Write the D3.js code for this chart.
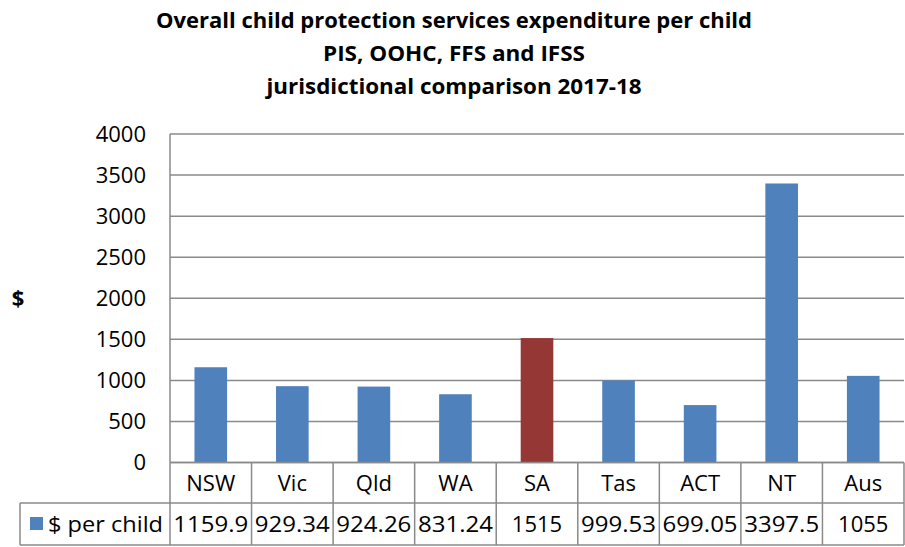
<!DOCTYPE html>
<html>
<head>
<meta charset="utf-8">
<script src="https://cdn.jsdelivr.net/npm/d3@7"></script>
<style>
  body { margin: 0; background: #fff; }
  svg { display: block; font-family: "Open Sans", sans-serif; }
</style>
</head>
<body>
<div id="chart"></div>
<script>
// data
const titleLines = [
  'Overall child protection services expenditure per child',
  'PIS, OOHC, FFS and IFSS',
  'jurisdictional comparison 2017-18'
];
const categories = ['NSW', 'Vic', 'Qld', 'WA', 'SA', 'Tas', 'ACT', 'NT', 'Aus'];
const values = [1159.9, 929.34, 924.26, 831.24, 1515, 999.53, 699.05, 3397.5, 1055];
const valueLabels = ['1159.9', '929.34', '924.26', '831.24', '1515', '999.53', '699.05', '3397.5', '1055'];
const highlight = 'SA';
const yTicks = [0, 500, 1000, 1500, 2000, 2500, 3000, 3500, 4000];
const seriesName = '$ per child';

const W = 905, H = 547;
const plotL = 170, plotR = 904, plotT = 134, plotB = 462.5;
const row1 = 503, row2 = 545, tableLeft = 20;
const gridColor = '#8a8a8a';
const blue = '#4f81bd', red = '#953735';

const svg = d3.select('#chart').append('svg')
  .attr('width', W)
  .attr('height', H);

const x = d3.scaleBand().domain(categories).range([plotL, plotR]);
const y = d3.scaleLinear().domain([0, 4000]).range([plotB, plotT]);

// title
const titleWidths = [596, 262, 375];
svg.append('g')
  .selectAll('text')
  .data(titleLines)
  .join('text')
  .attr('x', 454)
  .attr('y', (d, i) => 27.5 + i * 33)
  .attr('text-anchor', 'middle')
  .attr('font-size', 22)
  .attr('font-weight', 700)
  .attr('fill', '#000')
  .attr('textLength', (d, i) => titleWidths[i])
  .attr('lengthAdjust', 'spacingAndGlyphs')
  .text(d => d);

// gridlines
svg.append('g')
  .selectAll('line')
  .data(yTicks)
  .join('line')
  .attr('x1', plotL)
  .attr('x2', plotR)
  .attr('y1', d => y(d))
  .attr('y2', d => y(d))
  .attr('stroke', gridColor)
  .attr('stroke-width', 1.5);

// y tick labels
svg.append('g')
  .selectAll('text')
  .data(yTicks)
  .join('text')
  .attr('x', 146)
  .attr('y', d => y(d))
  .attr('dy', '0.36em')
  .attr('text-anchor', 'end')
  .attr('font-size', 22)
  .attr('fill', '#000')
  .text(d => d);

// y axis title
svg.append('text')
  .attr('x', 18)
  .attr('y', y(2000))
  .attr('dy', '0.36em')
  .attr('text-anchor', 'middle')
  .attr('font-size', 22)
  .attr('font-weight', 700)
  .text('$');

// bars
const barW = x.bandwidth() * 0.4;
svg.append('g')
  .selectAll('rect')
  .data(categories)
  .join('rect')
  .attr('x', d => x(d) + (x.bandwidth() - barW) / 2)
  .attr('y', (d, i) => y(values[i]))
  .attr('width', barW)
  .attr('height', (d, i) => y(0) - y(values[i]))
  .attr('fill', d => d === highlight ? red : blue);

// data table
const tbl = svg.append('g')
  .attr('stroke', gridColor)
  .attr('stroke-width', 1.5)
  .attr('fill', 'none');

tbl.append('line').attr('x1', plotL).attr('x2', plotL).attr('y1', plotT).attr('y2', row2);
tbl.append('line').attr('x1', plotR).attr('x2', plotR).attr('y1', plotB).attr('y2', row2);
tbl.append('line').attr('x1', tableLeft).attr('x2', tableLeft).attr('y1', row1).attr('y2', row2);
tbl.append('line').attr('x1', tableLeft).attr('x2', plotR).attr('y1', row1).attr('y2', row1);
tbl.append('line').attr('x1', tableLeft).attr('x2', plotR).attr('y1', row2).attr('y2', row2);
tbl.append('line').attr('x1', plotL).attr('x2', plotR).attr('y1', plotB).attr('y2', plotB);
tbl.selectAll('line.sep')
  .data(categories.slice(1))
  .join('line')
  .attr('class', 'sep')
  .attr('x1', d => x(d))
  .attr('x2', d => x(d))
  .attr('y1', plotB)
  .attr('y2', row2);

svg.append('g')
  .selectAll('text')
  .data(categories)
  .join('text')
  .attr('x', d => x(d) + x.bandwidth() / 2)
  .attr('y', (plotB + row1) / 2)
  .attr('dy', '0.36em')
  .attr('text-anchor', 'middle')
  .attr('font-size', 22)
  .text(d => d);

svg.append('g')
  .selectAll('text')
  .data(categories)
  .join('text')
  .attr('x', d => x(d) + x.bandwidth() / 2)
  .attr('y', (row1 + row2) / 2)
  .attr('dy', '0.36em')
  .attr('text-anchor', 'middle')
  .attr('font-size', 22)
  .attr('textLength', (d, i) => valueLabels[i].length >= 6 ? 75 : null)
  .attr('lengthAdjust', 'spacingAndGlyphs')
  .text((d, i) => valueLabels[i]);

// legend key
svg.append('rect')
  .attr('x', 30)
  .attr('y', 517)
  .attr('width', 13)
  .attr('height', 13)
  .attr('fill', blue);
svg.append('text')
  .attr('x', 48)
  .attr('y', (row1 + row2) / 2)
  .attr('dy', '0.36em')
  .attr('font-size', 22)
  .attr('textLength', 115)
  .attr('lengthAdjust', 'spacingAndGlyphs')
  .text(seriesName);
</script>
</body>
</html>
